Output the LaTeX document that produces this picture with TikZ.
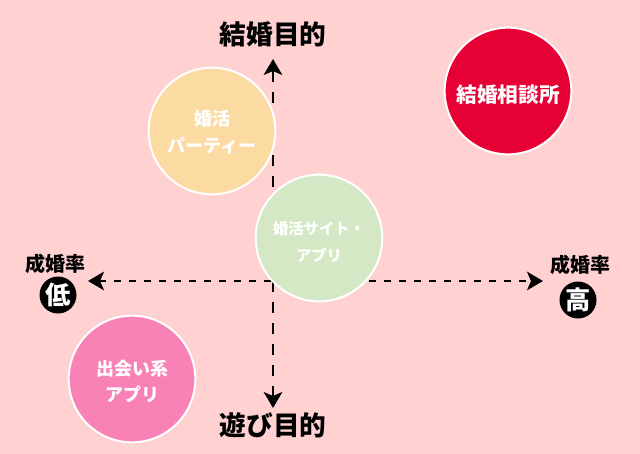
\documentclass[tikz,border=0pt]{standalone}
\usepackage{fontspec}
\setmainfont{Noto Sans CJK JP}
\usetikzlibrary{arrows.meta}

\definecolor{fondo}{HTML}{FFD1D1}
\definecolor{fiesta}{HTML}{FCDBA3}
\definecolor{sitio}{HTML}{D4E8C6}
\definecolor{citas}{HTML}{F882B5}
\definecolor{agencia}{HTML}{E60033}

\begin{document}
\begin{tikzpicture}[x=0.75pt, y=-0.75pt,
    burbuja/.style={circle, draw=white, line width=1.5pt, minimum size=95pt, inner sep=0pt},
    texto/.style={text=white, align=center, inner sep=0pt},
    eje/.style={line width=1.5pt, {Stealth[length=12pt, width=14pt, inset=3pt]}-{Stealth[length=12pt, width=14pt, inset=3pt]}},
    marca/.style={circle, fill=black, text=white, minimum size=27.75pt, inner sep=0pt, font=\bfseries\fontsize{19}{19}\selectfont},
    titulo/.style={font=\bfseries\fontsize{20}{20}\selectfont},
    tasa/.style={font=\bfseries\fontsize{15}{15}\selectfont}]

    % Fondo
    \fill[fondo] (0,0) rectangle (640,454);
    \useasboundingbox (0,0) rectangle (640,454);

    % Extremos de los ejes
    \coordinate (arriba) at (273,59);
    \coordinate (abajo) at (273,408);
    \coordinate (izq) at (88,281);
    \coordinate (der) at (543,281);

    % Ejes
    \draw[eje, dash pattern=on 8.25pt off 7.5pt] (abajo) -- (arriba);
    \draw[eje, dash pattern=on 5pt off 6.25pt] (izq) -- (der);

    % Burbujas
    \node[burbuja, fill=fiesta] (fiesta) at (212,131) {};
    \node[burbuja, fill=sitio] (sitio) at (319,238) {};
    \node[burbuja, fill=citas] (citas) at (132,379) {};
    \node[burbuja, fill=agencia] (agencia) at (508,91) {};

    % Textos de las burbujas
    \node[texto, font=\bfseries\fontsize{13.5}{20.25}\selectfont] (fiestaTxt) at ([yshift=-1.2pt]fiesta) {婚活\\パーティー};
    \node[texto, font=\bfseries\fontsize{11.5}{20.25}\selectfont] (sitioTxt) at ([yshift=-2.8pt]sitio) {婚活サイト・\\アプリ};
    \node[texto, font=\bfseries\fontsize{13.5}{19.5}\selectfont] (citasTxt) at ([yshift=-1.6pt]citas) {出会い系\\アプリ};
    \node[texto, font=\bfseries\fontsize{15.5}{15.5}\selectfont] (agenciaTxt) at ([yshift=-3pt]agencia) {結婚相談所};

    % Etiquetas de los ejes
    \node[titulo] (boda) at (273,34) {結婚目的};
    \node[titulo] (juego) at (273,425) {遊び目的};
    \node[tasa] (tasaIzq) at (56,264) {成婚率};
    \node[marca] (bajo) at (58,295) {低};
    \node[tasa] (tasaDer) at (580,265) {成婚率};
    \node[marca] (alto) at (578,300) {高};

\end{tikzpicture}
\end{document}
